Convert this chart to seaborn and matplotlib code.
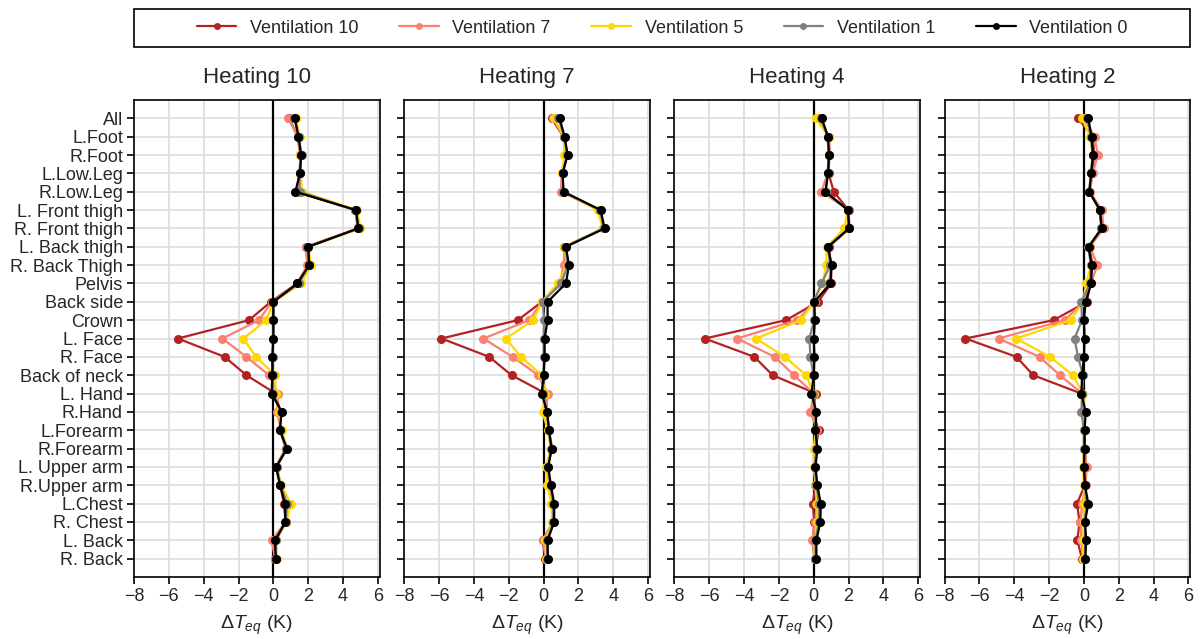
import numpy as np
import pandas as pd
import matplotlib
import matplotlib.pyplot as plt
from matplotlib.patches import Rectangle
import seaborn as sns

matplotlib.use('Agg')

parts = ["All", "L.Foot", "R.Foot", "L.Low.Leg", "R.Low.Leg", "L. Front thigh",
         "R. Front thigh", "L. Back thigh", "R. Back Thigh", "Pelvis", "Back side",
         "Crown", "L. Face", "R. Face", "Back of neck", "L. Hand", "R.Hand",
         "L.Forearm", "R.Forearm", "L. Upper arm", "R.Upper arm", "L.Chest",
         "R. Chest", "L. Back", "R. Back"]

heatings = ["Heating 10", "Heating 7", "Heating 4", "Heating 2"]
ventilations = ["Ventilation 10", "Ventilation 7", "Ventilation 5", "Ventilation 1", "Ventilation 0"]

# Heating 10
h10_v10 = [0.9, 1.4, 1.55, 1.5, 1.3, 4.7, 4.85, 1.9, 2.0, 1.35, -0.15, -1.4, -5.48, -2.8, -1.55,
           0.13, 0.4, 0.4, 0.7, 0.15, 0.4, 0.6, 0.7, 0.05, 0.1]
h10_v7 = [0.86, 1.4, 1.6, 1.5, 1.4, 4.7, 4.85, 1.85, 1.95, 1.4, -0.1, -0.82, -2.93, -1.55, -0.25,
          0.27, 0.2, 0.45, 0.7, 0.2, 0.4, 0.75, 0.7, -0.1, 0.1]
h10_v5 = [1.3, 1.5, 1.55, 1.55, 1.65, 4.8, 5.0, 2.0, 2.15, 1.6, 0.0, -0.4, -1.72, -1.0, 0.1,
          0.13, 0.3, 0.5, 0.75, 0.2, 0.45, 1.0, 0.75, 0.15, 0.2]
h10_v1 = [1.2, 1.45, 1.62, 1.5, 1.5, 4.7, 4.9, 1.95, 2.05, 1.45, 0.0, 0.0, -0.02, -0.05, -0.05,
          0.0, 0.45, 0.4, 0.75, 0.2, 0.4, 0.8, 0.7, 0.15, 0.15]
h10_v0 = [1.23, 1.44, 1.59, 1.53, 1.26, 4.75, 4.87, 2.01, 2.05, 1.38, 0.0, 0.0, 0.0, -0.06, -0.06,
          -0.1, 0.48, 0.36, 0.79, 0.15, 0.38, 0.67, 0.69, 0.1, 0.13]

# Heating 7
h7_v10 = [0.46, 1.15, 1.3, 1.05, 1.05, 3.2, 3.45, 1.2, 1.3, 1.0, -0.1, -1.48, -5.86, -3.12, -1.84,
          0.13, 0.2, 0.3, 0.5, 0.2, 0.35, 0.55, 0.55, -0.06, 0.1]
h7_v7 = [0.52, 1.2, 1.3, 1.05, 1.0, 3.2, 3.4, 1.2, 1.15, 0.95, -0.1, -0.82, -3.45, -1.78, -0.3,
         0.23, 0.15, 0.3, 0.45, 0.2, 0.35, 0.5, 0.55, -0.05, 0.15]
h7_v5 = [0.61, 1.15, 1.2, 1.05, 1.1, 3.1, 3.4, 1.2, 1.35, 0.8, -0.1, -0.59, -2.16, -1.3, -0.1,
         0.1, -0.06, 0.25, 0.4, 0.15, 0.2, 0.45, 0.5, 0.1, 0.15]
h7_v1 = [0.85, 1.2, 1.35, 1.1, 1.1, 3.25, 3.45, 1.25, 1.4, 1.0, -0.06, 0.04, 0.0, 0.02, 0.0,
         -0.05, 0.2, 0.3, 0.45, 0.25, 0.4, 0.55, 0.55, 0.2, 0.2]
h7_v0 = [0.92, 1.21, 1.38, 1.09, 1.15, 3.28, 3.5, 1.28, 1.46, 1.28, 0.23, 0.23, 0.06, 0.06, 0.0,
         -0.11, 0.21, 0.31, 0.46, 0.27, 0.42, 0.61, 0.61, 0.23, 0.25]

# Heating 4
h4_v10 = [0.29, 0.85, 0.9, 0.85, 1.15, 2.0, 2.05, 0.85, 1.0, 1.0, 0.25, -1.59, -6.26, -3.41, -2.36,
          0.13, -0.06, 0.29, 0.1, 0.05, 0.1, -0.06, 0.04, -0.06, 0.05]
h4_v7 = [0.19, 0.9, 0.9, 0.8, 0.44, 2.0, 2.0, 0.8, 0.95, 0.9, 0.1, -0.96, -4.4, -2.24, -1.13,
         0.0, -0.19, 0.2, 0.1, 0.05, 0.1, 0.15, 0.1, -0.1, 0.05]
h4_v5 = [0.11, 0.85, 0.85, 0.8, 0.7, 1.95, 1.76, 0.75, 0.71, 0.52, 0.0, -0.73, -3.31, -1.67, -0.44,
         0.0, 0.05, 0.1, 0.0, 0.0, 0.1, 0.2, 0.2, 0.05, 0.05]
h4_v1 = [0.4, 0.8, 0.85, 0.8, 0.7, 1.95, 2.0, 0.8, 0.95, 0.44, 0.0, 0.02, -0.25, -0.19, -0.02,
         -0.05, 0.1, 0.1, 0.15, 0.05, 0.15, 0.3, 0.3, 0.1, 0.1]
h4_v0 = [0.46, 0.82, 0.88, 0.82, 0.67, 1.97, 2.03, 0.82, 1.02, 0.96, 0.04, 0.06, 0.0, 0.04, 0.0,
         -0.13, 0.15, 0.1, 0.21, 0.1, 0.21, 0.4, 0.38, 0.15, 0.15]

# Heating 2
h2_v10 = [-0.34, 0.5, 0.6, 0.45, 0.3, 0.95, 1.05, 0.3, 0.5, 0.35, 0.17, -1.74, -6.8, -3.87, -2.91,
          -0.15, 0.0, 0.05, 0.05, 0.1, 0.05, -0.4, -0.25, -0.38, -0.11]
h2_v7 = [0.0, 0.61, 0.8, 0.5, 0.35, 1.03, 1.13, 0.35, 0.77, 0.4, 0.0, -1.11, -4.9, -2.55, -1.38,
         -0.1, 0.0, 0.05, 0.05, 0.15, 0.1, -0.1, -0.2, -0.15, -0.05]
h2_v5 = [-0.1, 0.35, 0.5, 0.4, 0.3, 0.9, 1.0, 0.3, 0.4, 0.13, -0.05, -0.77, -3.89, -1.95, -0.63,
         -0.05, 0.05, 0.0, 0.0, -0.05, 0.0, 0.0, 0.0, -0.05, -0.05]
h2_v1 = [0.2, 0.4, 0.5, 0.4, 0.3, 0.9, 1.0, 0.25, 0.4, 0.35, -0.15, -0.11, -0.54, -0.34, -0.05,
         -0.1, -0.15, 0.0, 0.0, 0.0, 0.05, 0.15, 0.05, 0.1, 0.05]
h2_v0 = [0.25, 0.44, 0.52, 0.42, 0.31, 0.92, 1.02, 0.27, 0.44, 0.42, 0.1, 0.0, 0.04, 0.0, -0.1,
         -0.15, 0.1, 0.04, 0.04, 0.0, 0.06, 0.25, 0.06, 0.13, 0.08]

series = {
    "Heating 10": [h10_v10, h10_v7, h10_v5, h10_v1, h10_v0],
    "Heating 7": [h7_v10, h7_v7, h7_v5, h7_v1, h7_v0],
    "Heating 4": [h4_v10, h4_v7, h4_v5, h4_v1, h4_v0],
    "Heating 2": [h2_v10, h2_v7, h2_v5, h2_v1, h2_v0],
}

colors = ["#B22222", "#FA8072", "#FFD700", "#808080", "#000000"]

rows = []
for h in heatings:
    for vent, vals in zip(ventilations, series[h]):
        for i, (p, v) in enumerate(zip(parts, vals)):
            rows.append({"heating": h, "vent": vent, "part": p, "pos": i, "dT": v})
df = pd.DataFrame(rows)

sns.set_theme(style="whitegrid")
plt.rcParams['font.family'] = ['Liberation Sans', 'DejaVu Sans']
plt.rcParams['mathtext.fontset'] = 'custom'
plt.rcParams['mathtext.rm'] = 'Liberation Sans'
plt.rcParams['mathtext.it'] = 'Liberation Sans:italic'

fig, axes = plt.subplots(1, 4, figsize=(12.01, 6.39), dpi=100, sharey=True)
fig.subplots_adjust(left=0.1116, right=0.991, top=0.8435, bottom=0.097, wspace=0.1)

for k, (ax, h) in enumerate(zip(axes, heatings)):
    sub = df[df["heating"] == h]
    ax.axvline(0, color="black", lw=1.6, zorder=1)
    sns.lineplot(data=sub, x="dT", y="pos", hue="vent", hue_order=ventilations,
                 palette=colors, sort=False, orient="y", estimator=None,
                 marker="o", markersize=6.5, markeredgewidth=0, linewidth=1.6,
                 legend=(k == 0), ax=ax, zorder=3)
    ax.set_xlim(-8, 6.1)
    ax.set_ylim(len(parts), -1)
    ax.set_xticks(np.arange(-8, 7, 2))
    ax.set_yticks(range(len(parts)))
    ax.set_yticklabels(parts)
    ax.set_title(h, fontsize=16, pad=12)
    ax.set_xlabel(r"$\Delta T_{eq}$ (K)", fontsize=14, labelpad=6)
    ax.set_ylabel("")
    ax.grid(True, color="#dcdcdc", lw=1.2)
    for s in ax.spines.values():
        s.set_color("black")
        s.set_linewidth(1.2)
    ax.tick_params(axis="both", which="both", direction="out", length=5, width=1.2,
                   color="black", labelsize=13, left=True, bottom=True, pad=3)
    ax.tick_params(axis="y", labelleft=(k == 0))

handles, labels = axes[0].get_legend_handles_labels()
axes[0].get_legend().remove()
for hd in handles:
    hd.set_markersize(5)

# legend box spanning the panels, entries centred inside it
box = Rectangle((0.1116, 0.9264), 0.8795, 0.0595, transform=fig.transFigure,
                facecolor="white", edgecolor="black", linewidth=1.2)
fig.patches.append(box)
fig.legend(handles, labels, loc="center", ncol=5,
           bbox_to_anchor=(0.1116 + 0.8795 / 2, 0.9264 + 0.0595 / 2), fontsize=13,
           frameon=False, handlelength=2.2, handletextpad=0.75, columnspacing=2.25)

fig.savefig("out.png", dpi=100)
